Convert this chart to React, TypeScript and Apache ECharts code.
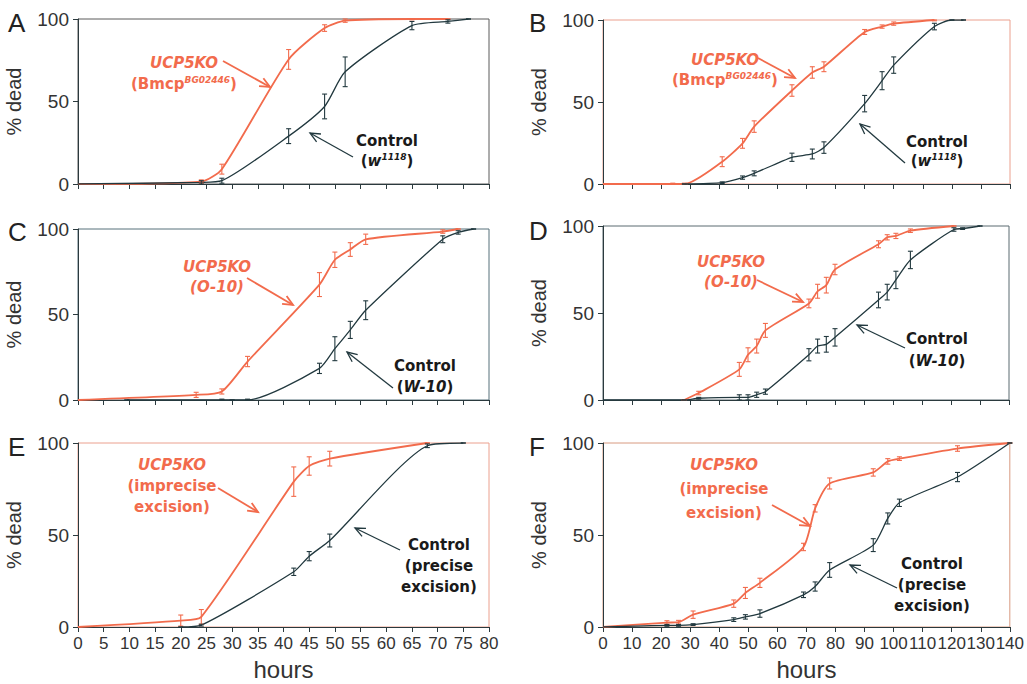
import React, { useEffect, useRef } from "react";
import * as echarts from "echarts";

// ---------- data: [hours, % dead, error] ----------
const panelLetters = ["A", "B", "C", "D", "E", "F"];
const xMaxes = [80, 140, 80, 140, 80, 140];
const xIntervals = [5, 10, 5, 10, 5, 10];
const yTickValues = [0, 50, 100];

const aKO = [[0, 0, 0], [24, 1.5, 1], [28, 9, 3], [41, 75.5, 6], [48, 94.5, 2], [52, 99, 1], [65, 100, 0.5], [72, 100, 0]];
const aCtrl = [[0, 0, 0], [24, 1, 1], [28, 2, 1.5], [41, 29, 4.5], [48, 47, 7.5], [52, 68, 9], [65, 96, 2.5], [72, 98.5, 1], [76, 100, 0]];

const bKO = [[0, 0, 0], [24, 0, 0.5], [28, 0, 0.5], [41, 13.6, 3], [48, 24.8, 3], [52, 35, 3.5], [65, 57, 3.5], [72, 68, 3.5], [76, 71.5, 3], [90, 92.7, 1.5], [96, 96, 1], [100, 97.8, 1], [114, 100, 0.5]];
const bCtrl = [[28, 0, 0], [41, 0.8, 0.5], [48, 3.9, 1], [52, 6.5, 1.5], [65, 16.3, 2.5], [72, 18.3, 3], [76, 22.2, 3.5], [90, 49, 5], [96, 63, 5.5], [100, 72.5, 5], [114, 96, 2], [120, 100, 0], [124, 100, 0]];

const cKO = [[0, 0, 0], [23, 3, 1.5], [28, 5, 1.5], [33, 22.5, 3], [47, 67.5, 7], [50, 82, 4.5], [53, 88, 4], [56, 94, 3], [71, 98.5, 1], [74, 100, 0]];
const cCtrl = [[9.5, 0, 0], [28, 0, 0.5], [30, 0, 0], [33, 0, 0.5], [47, 18.5, 3], [50, 30, 7], [53, 41, 5], [56, 52.5, 5.5], [71, 94, 2], [74, 98, 1], [77, 100, 0]];

const dKO = [[28, 0, 0], [33, 4, 1], [47, 17.6, 4], [50, 26, 4], [53, 31, 4], [56, 40, 4], [71, 55.5, 2.5], [74, 62.5, 4], [77, 66, 4.5], [80, 75, 3], [95, 89.5, 2], [98, 93.5, 1.5], [101, 94.3, 1.5], [106, 97.3, 1], [121, 100, 0]];
const dCtrl = [[0, 0, 0], [28, 0, 0], [33, 1, 0.5], [47, 1.5, 1.5], [50, 1.5, 1.5], [53, 3, 1.5], [56, 4.8, 1.5], [71, 26, 3.5], [74, 31, 4], [77, 32, 4.5], [80, 36, 5], [95, 57.5, 4.5], [98, 62, 4.5], [101, 69, 5], [106, 80.5, 5], [121, 98, 1], [124, 98.5, 0.5], [130, 100, 0]];

const eKO = [[0, 0, 0], [20, 3.5, 3], [24, 5.5, 4], [42, 79, 8], [45, 87.5, 5], [49, 91.5, 4], [68, 100, 0]];
const eCtrl = [[20, 0, 0], [24, 1, 0.5], [42, 30, 2], [45, 38.5, 2.5], [49, 47, 3.5], [68, 98.5, 1], [75, 100, 0]];

const fKO = [[0, 0, 0], [22, 2.4, 1], [26, 2.6, 1], [31, 6.7, 2], [45, 12.7, 2], [49, 18.5, 3], [54, 24, 2.5], [69, 43.5, 2], [73, 64.5, 2], [78, 78, 3], [93, 84, 2], [98, 90, 1.5], [102, 91.5, 1], [122, 97, 1.5], [140, 100, 0]];
const fCtrl = [[0, 0, 0], [22, 0.9, 0.5], [26, 0.9, 0.5], [31, 1.3, 0.5], [45, 4, 1], [49, 5.5, 1.2], [54, 7.3, 2], [69, 17.5, 1.5], [73, 22, 2.5], [78, 31, 4], [93, 44.5, 3.5], [98, 59, 3], [102, 67.5, 2], [122, 81.5, 2.5], [140, 100, 0]];

const koSeries = [aKO, bKO, cKO, dKO, eKO, fKO];
const ctrlSeries = [aCtrl, bCtrl, cCtrl, dCtrl, eCtrl, fCtrl];

const koLabels = [
  ["UCP5KO", "(Bmcp{s|BG02446})"],
  ["UCP5KO", "(Bmcp{s|BG02446})"],
  ["UCP5KO", "{i|(O-10)}"],
  ["UCP5KO", "{i|(O-10)}"],
  ["UCP5KO", "(imprecise", "excision)"],
  ["UCP5KO", "(imprecise", "excision)"],
];
const ctrlLabels = [
  ["Control", "({i|w}{s|1118})"],
  ["Control", "({i|w}{s|1118})"],
  ["Control", "({i|W-10})"],
  ["Control", "({i|W-10})"],
  ["Control", "(precise", "excision)"],
  ["Control", "(precise", "excision)"],
];

// ---------- layout / style ----------
const RED = "#f26b4c";
const DARK = "#22393f";
const FONT = '"Liberation Sans", Arial, sans-serif';
const LFONT = '"DejaVu Sans", sans-serif';

const grids = [
  { left: 78, top: 19, width: 411, height: 165 },
  { left: 603, top: 20, width: 407, height: 164 },
  { left: 78, top: 229, width: 411, height: 171 },
  { left: 603, top: 226, width: 406, height: 174 },
  { left: 78, top: 443, width: 411, height: 184 },
  { left: 603, top: 443, width: 410, height: 184 },
];
const borderColors = ["#5a5a5a", "#eba08e", "#56707a", "#5a6a70", "#eba08e", "#d89a80"];
const letterPos = [[8, 23], [529, 23], [8, 232], [529, 231], [8, 447], [529, 447]];

// label blocks: [centerX, firstLineCenterY, lineGap]
const koLabelPos = [[184, 63, 21], [725, 60, 20], [217, 267, 20], [731, 262, 20], [172, 465, 21], [724, 465, 24]];
const ctrlLabelPos = [[387, 141, 20], [937, 142, 19], [425, 366, 21], [937, 339, 22], [439, 545, 21], [932, 564, 21]];
const koArrows = [[223, 61, 270, 87], [758, 58, 795, 78], [247, 278, 293, 305], [757, 280, 803, 302], [218, 488, 258, 512], [772, 505, 810, 526]];
const ctrlArrows = [[353, 157, 310, 133], [905, 163, 860, 124], [393, 388, 347, 352], [905, 348, 857, 325], [400, 550, 355, 528], [897, 588, 850, 565]];

function arrow(a: number[], color: string, w: number) {
  const [x1, y1, x2, y2] = a;
  const ang = Math.atan2(y2 - y1, x2 - x1);
  const L = 11, h = 0.42;
  const p1 = [x2 - L * Math.cos(ang - h), y2 - L * Math.sin(ang - h)];
  const p2 = [x2 - L * Math.cos(ang + h), y2 - L * Math.sin(ang + h)];
  return [
    { type: "line", shape: { x1, y1, x2, y2 }, style: { stroke: color, lineWidth: w } },
    { type: "polyline", shape: { points: [p1, [x2, y2], p2] }, style: { stroke: color, fill: null, lineWidth: w } },
  ];
}

function labelBlock(lines: string[], pos: number[], color: string, firstItalic: boolean) {
  const [cx, cy, gap] = pos;
  return lines.map((t, k) => ({
    type: "text",
    x: cx,
    y: cy + k * gap,
    z: 50,
    style: {
      text: k === 0 ? t : "{b|" + t.replace(/\{(\w)\|([^}]*)\}/g, "}{$1|$2}{b|") + "}",
      fill: color,
      font: (k === 0 && firstItalic ? "italic " : "") + "bold 15px " + LFONT,
      align: "center",
      verticalAlign: "middle",
      rich: {
        b: { fontFamily: LFONT, fontSize: 15, fontWeight: "bold", fill: color, lineHeight: 18 },
        i: { fontFamily: LFONT, fontSize: 15, fontWeight: "bold", fontStyle: "italic", fill: color, lineHeight: 18 },
        s: { fontFamily: LFONT, fontSize: 9, fontWeight: "bold", fontStyle: "italic", fill: color, lineHeight: 18, verticalAlign: "top" },
      },
    },
  }));
}

function errRender(color: string) {
  return (params: any, api: any) => {
    const x = api.value(0), y = api.value(1), e = api.value(2);
    const top = api.coord([x, Math.min(100, y + e)]);
    const bot = api.coord([x, Math.max(0, y - e)]);
    const c = 2.5;
    const st = { stroke: color, lineWidth: 1.1 };
    return {
      type: "group",
      children: [
        { type: "line", shape: { x1: top[0], y1: top[1], x2: bot[0], y2: bot[1] }, style: st },
        { type: "line", shape: { x1: top[0] - c, y1: top[1], x2: top[0] + c, y2: top[1] }, style: st },
        { type: "line", shape: { x1: bot[0] - c, y1: bot[1], x2: bot[0] + c, y2: bot[1] }, style: st },
      ],
    };
  };
}

export default function App() {
  const ref = useRef<HTMLDivElement>(null);
  useEffect(() => {
    const chart = echarts.init(ref.current!, null, { renderer: "svg" });
    const grid = grids.map((g, i) => ({ ...g, show: true, borderColor: borderColors[i], borderWidth: 1, backgroundColor: "transparent" }));
    const xAxis = grids.map((_, i) => ({
      type: "value",
      gridIndex: i,
      min: 0,
      max: xMaxes[i],
      interval: xIntervals[i],
      name: i >= 4 ? "hours" : "",
      nameLocation: "middle",
      nameGap: 30,
      nameTextStyle: { fontFamily: FONT, fontSize: 24, color: "#333" },
      axisLine: { show: true, lineStyle: { color: "#2b3a3e", width: 1 } },
      axisTick: { show: true, inside: false, length: 5, lineStyle: { color: "#2b3a3e" } },
      axisLabel: { show: i >= 4, interval: 0, showMinLabel: true, showMaxLabel: true, hideOverlap: false, fontFamily: FONT, fontSize: 17, color: "#333", margin: 8 },
      splitLine: { show: false },
    }));
    const yAxis = grids.map((_, i) => ({
      type: "value",
      gridIndex: i,
      min: yTickValues[0],
      max: yTickValues[yTickValues.length - 1],
      interval: yTickValues[1] - yTickValues[0],
      name: "% dead",
      nameLocation: "middle",
      nameGap: 54,
      nameTextStyle: { fontFamily: FONT, fontSize: 20, color: "#333" },
      axisLine: { show: true, lineStyle: { color: "#2b3a3e", width: 1 } },
      axisTick: { show: true, length: 5, lineStyle: { color: "#2b3a3e" } },
      axisLabel: { fontFamily: FONT, fontSize: 19, color: "#333", margin: 9 },
      splitLine: { show: false },
    }));
    const series: any[] = [];
    grids.forEach((_, i) => {
      const ko = koSeries[i], ct = ctrlSeries[i];
      series.push({
        type: "line", xAxisIndex: i, yAxisIndex: i, data: ko.map((d) => [d[0], d[1]]),
        smooth: 0.22, showSymbol: false, z: 3,
        lineStyle: { color: RED, width: 1.8 },
      });
      series.push({
        type: "line", xAxisIndex: i, yAxisIndex: i, data: ct.map((d) => [d[0], d[1]]),
        smooth: 0.22, showSymbol: false, z: 4,
        lineStyle: { color: DARK, width: 1.3 },
      });
      series.push({
        type: "custom", xAxisIndex: i, yAxisIndex: i, data: ko.filter((d) => d[0] > 0), z: 5,
        renderItem: errRender(RED),
      });
      series.push({
        type: "custom", xAxisIndex: i, yAxisIndex: i, data: ct.filter((d) => d[0] > 0), z: 6,
        renderItem: errRender(DARK),
      });
    });
    const graphic: any[] = [];
    panelLetters.forEach((L, i) => {
      graphic.push({
        type: "text", x: letterPos[i][0], y: letterPos[i][1],
        style: { text: L, font: "26px " + FONT, fill: "#222", align: "left", verticalAlign: "middle" },
      });
      graphic.push(...labelBlock(koLabels[i], koLabelPos[i], RED, true));
      graphic.push(...labelBlock(ctrlLabels[i], ctrlLabelPos[i], "#1a1a1a", false));
      graphic.push(...arrow(koArrows[i], RED, 1.8));
      graphic.push(...arrow(ctrlArrows[i], DARK, 1.3));
    });
    chart.setOption({
      animation: false,
      backgroundColor: "#ffffff",
      grid,
      xAxis,
      yAxis,
      series,
      graphic,
    });
    return () => chart.dispose();
  }, []);
  return (
    <div style={{ position: "fixed", left: 0, top: 0, width: 1027, height: 684 }}>
      <div ref={ref} style={{ width: 1027, height: 684 }} />
    </div>
  );
}
